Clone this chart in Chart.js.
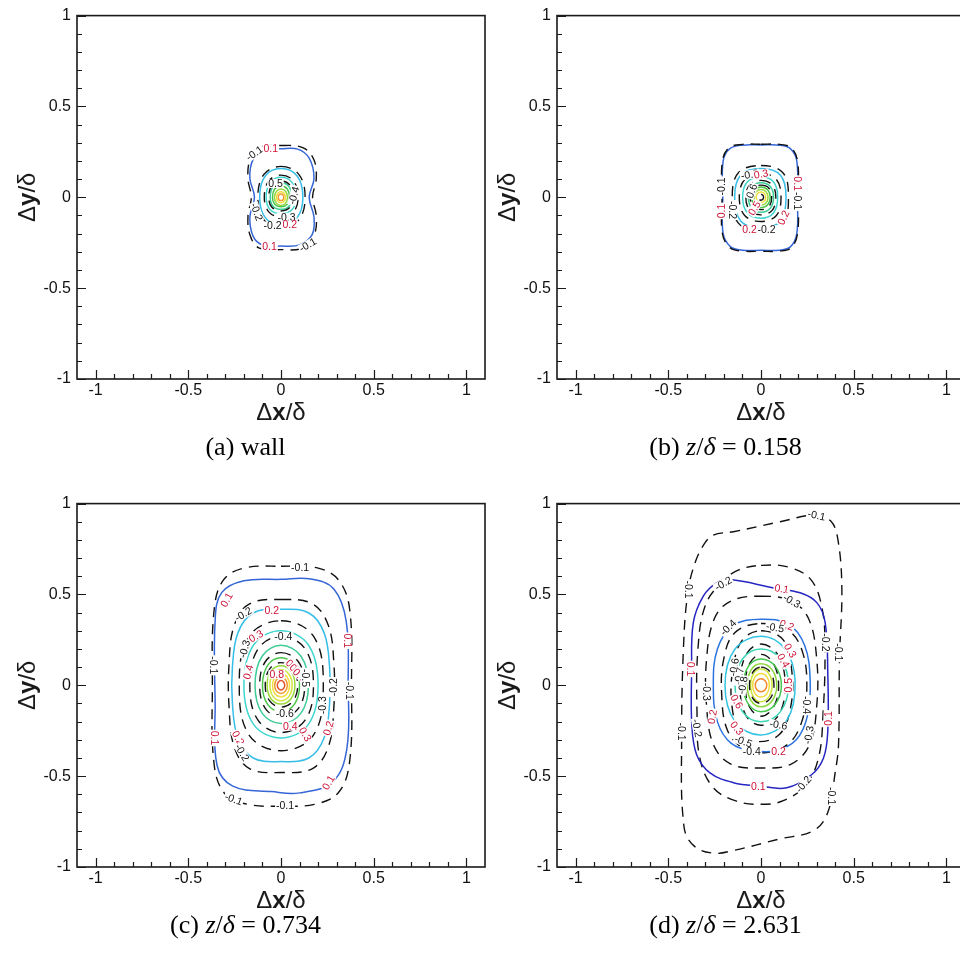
<!DOCTYPE html>
<html>
<head>
<meta charset="utf-8">
<title>Two-point correlation contours</title>
<script src="https://cdn.jsdelivr.net/npm/chart.js@4.4.1/dist/chart.umd.min.js"></script>
<style>
  html, body { margin: 0; padding: 0; background: #fff; overflow: hidden; }
  body { width: 960px; height: 953px; position: relative; }
  canvas { position: absolute; }
</style>
</head>
<body>
<canvas id="pa" width="490" height="470" style="left:0;top:0"></canvas>
<canvas id="pb" width="490" height="470" style="left:480px;top:0"></canvas>
<canvas id="pc" width="490" height="470" style="left:0;top:488px"></canvas>
<canvas id="pd" width="490" height="470" style="left:480px;top:488px"></canvas>
<script>
// ---- axes ----
const xTickValues = [-1, -0.5, 0, 0.5, 1];
const yTickValues = [-1, -0.5, 0, 0.5, 1];
const xMinorValues = [-0.9, -0.8, -0.7, -0.6, -0.4, -0.3, -0.2, -0.1, 0.1, 0.2, 0.3, 0.4, 0.6, 0.7, 0.8, 0.9];
const yMinorValues = [-0.9, -0.8, -0.7, -0.6, -0.4, -0.3, -0.2, -0.1, 0.1, 0.2, 0.3, 0.4, 0.6, 0.7, 0.8, 0.9];

// ---- panel captions ----
const panelTags = ['a', 'b', 'c', 'd'];
const panelStations = ['wall', '0.158', '0.734', '2.631'];

// ---- (a) wall : contour levels and closed contour rings [x0,y0, x1,y1, ...] ----
const levelsA = [-0.1, 0.1, -0.2, 0.2, -0.3, 0.3, -0.4, 0.4, 0.5, 0.6, 0.8, 0.9];
const ringsA = [
  [0,0.285, 0.12,0.272, 0.178,0.205, 0.19,0.1, 0.17,0, 0.19,-0.1, 0.18,-0.205, 0.12,-0.278, 0,-0.288, -0.12,-0.278, -0.168,-0.205, -0.178,-0.1, -0.16,0, -0.178,0.1, -0.168,0.205, -0.12,0.272],
  [0,0.267, 0.09,0.265, 0.152,0.215, 0.178,0.105, 0.152,0, 0.178,-0.11, 0.168,-0.205, 0.1,-0.262, 0,-0.268, -0.1,-0.262, -0.15,-0.215, -0.168,-0.11, -0.143,0, -0.168,0.105, -0.15,0.21, -0.09,0.262],
  [0,0.17, 0.096,0.126, 0.13,0, 0.096,-0.124, 0,-0.168, -0.092,-0.124, -0.125,0, -0.092,0.126],
  [0,0.158, 0.087,0.117, 0.118,0, 0.087,-0.112, 0,-0.152, -0.085,-0.112, -0.115,0, -0.085,0.117],
  [0,0.122, 0.068,0.09, 0.092,0, 0.068,-0.08, 0,-0.108, -0.066,-0.08, -0.09,0, -0.066,0.09],
  [0,0.11, 0.06,0.081, 0.082,0, 0.06,-0.067, 0,-0.09, -0.059,-0.067, -0.08,0, -0.059,0.081],
  [0,0.09, 0.049,0.066, 0.066,0, 0.049,-0.055, 0,-0.075, -0.049,-0.055, -0.066,0, -0.049,0.066],
  [0,0.08, 0.043,0.059, 0.058,0, 0.043,-0.049, 0,-0.066, -0.043,-0.049, -0.058,0, -0.043,0.059],
  [0,0.062, 0.034,0.046, 0.046,0, 0.034,-0.038, 0,-0.052, -0.034,-0.038, -0.046,0, -0.034,0.046],
  [0,0.045, 0.025,0.032, 0.035,0, 0.025,-0.032, 0,-0.045, -0.025,-0.032, -0.035,0, -0.025,0.032],
  [0,0.03, 0.017,0.021, 0.024,0, 0.017,-0.021, 0,-0.03, -0.017,-0.021, -0.024,0, -0.017,0.021],
  [0,0.018, 0.011,0.013, 0.015,0, 0.011,-0.013, 0,-0.018, -0.011,-0.013, -0.015,0, -0.011,0.013]
];
// contour labels: [x, y, text, angle (deg), colour r=red k=black]
const labelsA = [
  [-0.143, 0.242, '-0.1', -35, 'k'], [-0.055, 0.267, '0.1', 0, 'r'],
  [-0.03, 0.076, '0.5', 0, 'k'], [0.07, 0.01, '-0.4', -75, 'k'],
  [0.03, -0.11, '-0.3', 0, 'k'], [0.047, -0.152, '0.2', 0, 'r'],
  [-0.045, -0.158, '-0.2', 0, 'k'], [-0.132, -0.08, '-0.2', 70, 'k'],
  [-0.062, -0.273, '0.1', 0, 'r'], [0.145, -0.262, '-0.1', -30, 'k']
];

// ---- (b) z/delta = 0.158 ----
const levelsB = [-0.1, 0.1, -0.2, 0.2, -0.3, 0.3, -0.4, 0.4, -0.5, 0.5, 0.6, 0.8, -0.9];
const ringsB = [
  [0,0.292, 0.1,0.291, 0.162,0.273, 0.197,0.2, 0.2,0, 0.197,-0.2, 0.162,-0.278, 0.1,-0.296, 0,-0.297, -0.1,-0.296, -0.167,-0.278, -0.208,-0.2, -0.21,0, -0.208,0.2, -0.172,0.273, -0.1,0.291],
  [0,0.288, 0.1,0.287, 0.158,0.268, 0.193,0.2, 0.196,0, 0.193,-0.2, 0.158,-0.273, 0.1,-0.291, 0,-0.292, -0.1,-0.291, -0.163,-0.273, -0.204,-0.2, -0.206,0, -0.204,0.2, -0.168,0.268, -0.1,0.287],
  [0,0.175, 0.118,0.135, 0.148,0, 0.118,-0.142, 0,-0.185, -0.122,-0.142, -0.155,0, -0.122,0.135],
  [0,0.158, 0.105,0.121, 0.135,0, 0.105,-0.13, 0,-0.169, -0.11,-0.13, -0.142,0, -0.11,0.121],
  [0,0.131, 0.083,0.098, 0.108,0, 0.083,-0.1, 0,-0.133, -0.088,-0.1, -0.117,0, -0.088,0.098],
  [0,0.113, 0.068,0.084, 0.09,0, 0.068,-0.085, 0,-0.115, -0.074,-0.085, -0.099,0, -0.074,0.084],
  [0,0.093, 0.06,0.069, 0.08,0, 0.06,-0.072, 0,-0.097, -0.06,-0.072, -0.082,0, -0.06,0.069],
  [0,0.08, 0.05,0.059, 0.068,0, 0.05,-0.06, 0,-0.082, -0.05,-0.06, -0.068,0, -0.05,0.059],
  [0,0.067, 0.043,0.05, 0.058,0, 0.043,-0.05, 0,-0.068, -0.043,-0.05, -0.058,0, -0.043,0.05],
  [0,0.057, 0.036,0.041, 0.05,0, 0.036,-0.041, 0,-0.057, -0.036,-0.041, -0.05,0, -0.036,0.041],
  [0,0.043, 0.027,0.031, 0.038,0, 0.027,-0.031, 0,-0.043, -0.027,-0.031, -0.038,0, -0.027,0.031],
  [0,0.029, 0.018,0.021, 0.026,0, 0.018,-0.021, 0,-0.029, -0.018,-0.021, -0.026,0, -0.018,0.021],
  [0,0.016, 0.01,0.011, 0.014,0, 0.01,-0.011, 0,-0.016, -0.01,-0.011, -0.014,0, -0.01,0.011]
];
const labelsB = [
  [-0.06, 0.125, '-0.3', -10, 'k'], [0.0, 0.128, '0.3', -10, 'r'],
  [-0.212, 0.06, '-0.1', -90, 'k'], [-0.212, -0.075, '0.1', -90, 'r'],
  [-0.152, -0.07, '-0.2', 90, 'k'], [0.197, 0.075, '0.1', 90, 'r'],
  [0.197, -0.02, '-0.1', 90, 'k'], [0.122, -0.112, '0.2', -65, 'r'],
  [-0.062, -0.178, '0.2', 0, 'r'], [0.03, -0.178, '-0.2', 0, 'k'],
  [-0.05, 0.035, '0.6', -70, 'k'], [-0.035, -0.06, '0.5', -60, 'r']
];

// ---- (c) z/delta = 0.734 ----
const levelsC = [-0.1, 0.1, -0.2, 0.2, -0.3, 0.3, -0.4, 0.4, -0.5, 0.5, -0.6, 0.6, 0.7, 0.8, 0.9, 1.0];
const ringsC = [
  [0,0.655, 0.2,0.645, 0.31,0.58, 0.37,0.42, 0.38,0, 0.37,-0.42, 0.31,-0.59, 0.18,-0.655, 0,-0.665, -0.18,-0.655, -0.3,-0.6, -0.36,-0.44, -0.37,0, -0.36,0.42, -0.31,0.58, -0.2,0.645],
  [0,0.583, 0.16,0.585, 0.285,0.53, 0.352,0.35, 0.362,0, 0.355,-0.35, 0.28,-0.53, 0.1,-0.592, -0.05,-0.585, -0.26,-0.555, -0.345,-0.44, -0.355,-0.1, -0.355,0.36, -0.32,0.51, -0.2,0.575],
  [0,0.472, 0.17,0.448, 0.255,0.33, 0.285,0.12, 0.285,-0.12, 0.255,-0.34, 0.17,-0.458, 0,-0.48, -0.17,-0.458, -0.252,-0.34, -0.28,-0.12, -0.28,0.12, -0.252,0.33, -0.17,0.448],
  [0,0.418, 0.15,0.398, 0.232,0.29, 0.262,0.1, 0.262,-0.1, 0.232,-0.29, 0.15,-0.4, 0,-0.42, -0.15,-0.4, -0.232,-0.29, -0.262,-0.1, -0.262,0.1, -0.232,0.29, -0.15,0.398],
  [0,0.355, 0.175,0.27, 0.228,0, 0.175,-0.274, 0,-0.36, -0.172,-0.274, -0.225,0, -0.172,0.27],
  [0,0.3, 0.148,0.222, 0.2,0, 0.148,-0.215, 0,-0.29, -0.148,-0.215, -0.2,0, -0.148,0.222],
  [0,0.27, 0.13,0.2, 0.175,0, 0.13,-0.192, 0,-0.26, -0.124,-0.192, -0.168,0, -0.124,0.2],
  [0,0.22, 0.108,0.16, 0.148,0, 0.108,-0.153, 0,-0.21, -0.102,-0.153, -0.14,0, -0.102,0.16],
  [0,0.18, 0.093,0.131, 0.128,0, 0.093,-0.128, 0,-0.175, -0.084,-0.128, -0.115,0, -0.084,0.131],
  [0,0.152, 0.072,0.11, 0.1,0, 0.072,-0.105, 0,-0.145, -0.072,-0.105, -0.1,0, -0.072,0.11],
  [0,0.125, 0.065,0.09, 0.09,0, 0.065,-0.086, 0,-0.12, -0.061,-0.086, -0.085,0, -0.061,0.09],
  [0,0.108, 0.054,0.078, 0.075,0, 0.054,-0.074, 0,-0.103, -0.054,-0.074, -0.075,0, -0.054,0.078],
  [0,0.085, 0.043,0.061, 0.06,0, 0.043,-0.061, 0,-0.085, -0.043,-0.061, -0.06,0, -0.043,0.061],
  [0,0.064, 0.033,0.046, 0.046,0, 0.033,-0.046, 0,-0.064, -0.033,-0.046, -0.046,0, -0.033,0.046],
  [0,0.045, 0.024,0.032, 0.034,0, 0.024,-0.032, 0,-0.045, -0.024,-0.032, -0.034,0, -0.024,0.032],
  [0,0.026, 0.014,0.018, 0.02,0, 0.014,-0.018, 0,-0.026, -0.014,-0.018, -0.02,0, -0.014,0.018]
];
const labelsC = [
  [0.103, 0.649, '-0.1', 0, 'k'], [-0.293, 0.47, '0.1', -60, 'r'],
  [-0.203, 0.391, '-0.2', -30, 'k'], [-0.05, 0.409, '0.2', 0, 'r'],
  [-0.196, 0.2, '-0.3', -75, 'k'], [-0.135, 0.27, '0.3', -30, 'r'],
  [0.013, 0.269, '-0.4', 0, 'k'], [-0.365, 0.11, '-0.1', 90, 'k'],
  [0.356, 0.245, '0.1', 90, 'r'], [-0.176, 0.073, '0.4', -75, 'r'],
  [0.062, 0.105, '0.5', 45, 'r'], [0.082, 0.08, '0.6', 45, 'r'], [0.1, 0.055, '0.7', 45, 'r'],
  [-0.023, 0.06, '0.8', 0, 'r'], [0.13, 0.04, '-0.5', 90, 'k'],
  [0.283, -0.01, '-0.2', -90, 'k'], [0.368, -0.03, '-0.1', 90, 'k'],
  [0.225, -0.11, '-0.3', -90, 'k'], [0.02, -0.155, '-0.6', 0, 'k'],
  [0.05, -0.225, '0.4', 0, 'r'], [0.13, -0.27, '0.3', 60, 'r'],
  [0.256, -0.236, '0.2', -75, 'r'], [-0.232, -0.29, '0.2', 60, 'r'],
  [-0.21, -0.37, '-0.2', 60, 'k'], [-0.358, -0.29, '0.1', 90, 'r'],
  [0.256, -0.536, '0.1', -60, 'r'], [-0.255, -0.627, '-0.1', 20, 'k'],
  [0.022, -0.664, '-0.1', 0, 'k']
];

// ---- (d) z/delta = 2.631 ----
const levelsD = [-0.1, 0.1, -0.2, -0.3, 0.2, -0.4, 0.3, -0.5, 0.4, -0.6, 0.5, -0.7, 0.6, -0.8, 0.7, 0.8, 0.9];
const ringsD = [
  [-0.257,0.827, -0.149,0.845, 0.103,0.9, 0.283,0.936, 0.375,0.905, 0.415,0.8, 0.436,0.527, 0.423,0.145, 0.418,-0.327, 0.4,-0.48, 0.36,-0.7, 0.283,-0.8, 0.103,-0.845, -0.149,-0.909, -0.257,-0.924, -0.36,-0.885, -0.415,-0.78, -0.428,-0.291, -0.416,0.255, -0.392,0.527, -0.356,0.673, -0.311,0.77],
  [-0.239,0.564, -0.167,0.582, 0.067,0.536, 0.211,0.509, 0.301,0.455, 0.346,0.345, 0.36,0.073, 0.36,-0.255, 0.337,-0.4, 0.274,-0.491, 0.139,-0.564, -0.005,-0.555, -0.149,-0.536, -0.275,-0.482, -0.347,-0.382, -0.373,-0.218, -0.374,0.073, -0.365,0.345, -0.311,0.491],
  [0,0.66, 0.15,0.65, 0.27,0.58, 0.33,0.42, 0.345,0.2, 0.335,-0.15, 0.31,-0.4, 0.24,-0.55, 0.12,-0.635, 0,-0.655, -0.14,-0.635, -0.26,-0.56, -0.33,-0.4, -0.345,-0.15, -0.34,0.2, -0.3,0.44, -0.21,0.57, -0.12,0.635],
  [0,0.49, 0.16,0.465, 0.255,0.37, 0.3,0.15, 0.3,-0.12, 0.26,-0.33, 0.16,-0.435, 0,-0.455, -0.16,-0.435, -0.255,-0.33, -0.293,-0.12, -0.293,0.15, -0.25,0.37, -0.16,0.465],
  [0,0.364, 0.15,0.335, 0.235,0.22, 0.265,0.03, 0.25,-0.17, 0.19,-0.3, 0.08,-0.36, -0.04,-0.36, -0.16,-0.32, -0.235,-0.2, -0.257,0, -0.235,0.2, -0.15,0.33],
  [0,0.34, 0.15,0.3, 0.225,0.18, 0.247,-0.02, 0.22,-0.2, 0.15,-0.32, 0.03,-0.37, -0.09,-0.35, -0.18,-0.25, -0.212,-0.05, -0.2,0.15, -0.14,0.29],
  [0,0.27, 0.13,0.2, 0.184,0.02, 0.14,-0.19, 0,-0.273, -0.14,-0.2, -0.194,0, -0.14,0.2],
  [0,0.3, 0.12,0.25, 0.166,0.08, 0.16,-0.12, 0.1,-0.27, -0.02,-0.31, -0.11,-0.27, -0.158,-0.1, -0.15,0.1, -0.1,0.25],
  [0,0.2, 0.105,0.145, 0.148,0, 0.105,-0.145, 0,-0.2, -0.1,-0.145, -0.14,0, -0.1,0.145],
  [0,0.227, 0.09,0.17, 0.13,0.01, 0.095,-0.165, 0,-0.22, -0.082,-0.165, -0.113,0, -0.08,0.17],
  [0,0.145, 0.077,0.104, 0.11,0, 0.077,-0.104, 0,-0.145, -0.068,-0.104, -0.095,0, -0.068,0.104],
  [0,0.17, 0.066,0.122, 0.095,0, 0.066,-0.122, 0,-0.17, -0.06,-0.122, -0.085,0, -0.06,0.122],
  [0,0.118, 0.06,0.085, 0.085,0, 0.06,-0.085, 0,-0.118, -0.053,-0.085, -0.074,0, -0.053,0.085],
  [0,0.1, 0.05,0.072, 0.07,0, 0.05,-0.072, 0,-0.1, -0.044,-0.072, -0.062,0, -0.044,0.072],
  [0,0.09, 0.042,0.065, 0.06,0, 0.042,-0.065, 0,-0.09, -0.04,-0.065, -0.056,0, -0.04,0.065],
  [0,0.065, 0.032,0.046, 0.045,0, 0.032,-0.046, 0,-0.065, -0.032,-0.046, -0.045,0, -0.032,0.046],
  [0,0.036, 0.022,0.025, 0.031,0, 0.022,-0.025, 0,-0.036, -0.022,-0.025, -0.031,0, -0.022,0.025]
];
const labelsD = [
  [0.3, 0.935, '-0.1', 12, 'k'], [-0.392, 0.527, '-0.1', 90, 'k'],
  [-0.428, -0.255, '-0.1', 90, 'k'], [0.418, 0.182, '-0.1', 90, 'k'],
  [0.382, -0.609, '-0.1', 90, 'k'], [-0.203, 0.56, '-0.2', -30, 'k'],
  [0.112, 0.531, '0.1', 10, 'r'], [0.166, 0.464, '-0.3', 30, 'k'],
  [0.139, 0.33, '0.2', 20, 'r'], [0.076, 0.318, '-0.5', 10, 'k'],
  [-0.176, 0.318, '-0.4', -45, 'k'], [0.346, 0.236, '-0.2', 90, 'k'],
  [0.157, 0.191, '0.3', 60, 'r'], [0.121, 0.136, '0.4', 60, 'r'],
  [0.148, 0.0, '0.5', -90, 'r'], [-0.383, 0.09, '0.1', 90, 'r'],
  [-0.145, 0.1, '-0.6', -80, 'k'], [-0.118, 0.05, '-0.7', -80, 'k'], [-0.098, 0.0, '-0.8', -80, 'k'],
  [-0.131, -0.09, '0.6', 60, 'r'], [-0.293, -0.036, '-0.3', 90, 'k'],
  [0.247, -0.109, '-0.4', 90, 'k'], [0.362, -0.182, '0.1', -90, 'r'],
  [-0.262, -0.173, '0.2', -80, 'r'], [-0.345, -0.236, '-0.2', 80, 'k'],
  [-0.131, -0.236, '0.3', 50, 'r'], [0.094, -0.218, '-0.6', 10, 'k'],
  [0.258, -0.273, '-0.3', -80, 'k'], [-0.095, -0.309, '-0.5', 20, 'k'],
  [-0.05, -0.365, '-0.4', 0, 'k'], [0.094, -0.365, '0.2', 0, 'r'],
  [-0.014, -0.555, '0.1', 0, 'r'], [0.229, -0.545, '-0.2', -50, 'k']
];

// ---- styling ----
const paletteNear = ['#3566d6', '#36bde8', '#3fd6cf', '#3fcc96', '#4bc44a', '#9ad83e', '#d2e640', '#f0dc3c', '#f09a32', '#e2522c'];
const paletteFar  = ['#2626c2', '#2b74e0', '#31c3e2', '#3ad6b6', '#45c64e', '#8ed63c', '#cce43e', '#f0dc3c', '#f08a2e', '#e2522c'];
const SANS = '"Liberation Sans", Arial, Helvetica, sans-serif';
const SERIF = '"Liberation Serif", "Times New Roman", Times, serif';

function ringDataset(level, flat, palette) {
  const pts = [];
  for (let i = 0; i < flat.length; i += 2) pts.push({ x: flat[i], y: flat[i + 1] });
  const n = pts.length;
  // wrap one vertex on each side so the spline closes smoothly; the two outer segments stay hidden
  const data = [pts[n - 1], ...pts, pts[0], pts[1]];
  const dashed = level < 0;
  const color = dashed ? '#111111' : palette[Math.round(Math.abs(level) * 10) - 1];
  return {
    data,
    showLine: true,
    pointRadius: 0,
    borderWidth: dashed ? 1.4 : 1.5,
    borderColor: color,
    borderDash: dashed ? [10, 7] : [],
    tension: 0.38,
    fill: false,
    segment: {
      borderColor: c => (c.p0DataIndex === 0 || c.p0DataIndex === n + 1) ? 'rgba(0,0,0,0)' : undefined
    }
  };
}

function drawParts(ctx, parts, cx, cy) {
  let total = 0;
  for (const [t, f] of parts) { ctx.font = f; total += ctx.measureText(t).width; }
  let x = cx - total / 2;
  ctx.textAlign = 'left';
  ctx.textBaseline = 'middle';
  for (const [t, f] of parts) { ctx.font = f; ctx.fillText(t, x, cy); x += ctx.measureText(t).width; }
}

function overlay(labels, tag, station, captionY) {
  return {
    id: 'overlay',
    afterDatasetsDraw(chart) {
      const { ctx, scales: { x, y } } = chart;
      ctx.save();
      ctx.font = '10.5px ' + SANS;
      ctx.textAlign = 'center';
      ctx.textBaseline = 'middle';
      for (const [lx, ly, txt, ang, col] of labels) {
        const px = x.getPixelForValue(lx), py = y.getPixelForValue(ly);
        ctx.save();
        ctx.translate(px, py);
        ctx.rotate(ang * Math.PI / 180);
        const w = ctx.measureText(txt).width;
        ctx.fillStyle = '#ffffff';
        ctx.fillRect(-w / 2 - 1, -4.5, w + 2, 9);
        ctx.fillStyle = col === 'r' ? '#cc1236' : '#111111';
        ctx.fillText(txt, 0, 0.5);
        ctx.restore();
      }
      ctx.restore();
    },
    afterDraw(chart) {
      const { ctx, chartArea: a, scales: { x, y } } = chart;
      ctx.save();
      // frame
      ctx.strokeStyle = '#1a1a1a';
      ctx.lineWidth = 1.6;
      ctx.strokeRect(a.left, a.top, a.right - a.left, a.bottom - a.top);
      // inward tick marks on bottom and left axes
      ctx.lineWidth = 1.2;
      ctx.beginPath();
      for (const v of xTickValues) { const p = Math.round(x.getPixelForValue(v)) + 0.5; ctx.moveTo(p, a.bottom); ctx.lineTo(p, a.bottom - 9); }
      for (const v of xMinorValues) { const p = Math.round(x.getPixelForValue(v)) + 0.5; ctx.moveTo(p, a.bottom); ctx.lineTo(p, a.bottom - 5); }
      for (const v of yTickValues) { const p = Math.round(y.getPixelForValue(v)) + 0.5; ctx.moveTo(a.left, p); ctx.lineTo(a.left + 9, p); }
      for (const v of yMinorValues) { const p = Math.round(y.getPixelForValue(v)) + 0.5; ctx.moveTo(a.left, p); ctx.lineTo(a.left + 5, p); }
      ctx.stroke();
      // axis titles
      ctx.fillStyle = '#1a1a1a';
      const reg = '24px ' + SANS, bold = 'bold 24px ' + SANS;
      drawParts(ctx, [['\u0394', reg], ['x', bold], ['/\u03b4', reg]], x.getPixelForValue(0), a.bottom + 34);
      ctx.save();
      ctx.translate(28, (a.top + a.bottom) / 2);
      ctx.rotate(-Math.PI / 2);
      drawParts(ctx, [['\u0394', reg], ['y', bold], ['/\u03b4', reg]], 0, 0);
      ctx.restore();
      // caption
      ctx.fillStyle = '#000000';
      const sr = '26px ' + SERIF, si = 'italic 26px ' + SERIF;
      const parts = station === 'wall'
        ? [['(' + tag + ') wall', sr]]
        : [['(' + tag + ') ', sr], ['z', si], ['/', sr], ['\u03b4', si], [' = ' + station, sr]];
      drawParts(ctx, parts, 245.5, captionY);
      ctx.restore();
    }
  };
}

function makePanel(id, levels, rings, labels, palette, tag, station, captionY) {
  const datasets = levels.map((lv, i) => ringDataset(lv, rings[i], palette));
  const tickFont = { family: SANS, size: 16 };
  new Chart(document.getElementById(id), {
    type: 'scatter',
    data: { datasets },
    options: {
      responsive: false,
      animation: false,
      devicePixelRatio: 1,
      events: [],
      layout: { padding: { left: 0, right: 5, top: 12, bottom: 0 } },
      plugins: { legend: { display: false }, tooltip: { enabled: false } },
      scales: {
        x: {
          type: 'linear', min: -1.1, max: 1.1,
          afterBuildTicks: s => { s.ticks = xTickValues.map(v => ({ value: v })); },
          afterFit: s => { s.height = 91; },
          grid: { display: false, drawTicks: false }, border: { display: false },
          ticks: { padding: 2, font: tickFont, color: '#111111', maxRotation: 0, autoSkip: false, callback: v => String(v) }
        },
        y: {
          type: 'linear', min: -1, max: 1,
          afterBuildTicks: s => { s.ticks = yTickValues.map(v => ({ value: v })); },
          afterFit: s => { s.width = 77; },
          grid: { display: false, drawTicks: false }, border: { display: false },
          ticks: { padding: 6, font: tickFont, color: '#111111', autoSkip: false, callback: v => String(v) }
        }
      }
    },
    plugins: [overlay(labels, tag, station, captionY)]
  });
}

makePanel('pa', levelsA, ringsA, labelsA, paletteNear, panelTags[0], panelStations[0], 448);
makePanel('pb', levelsB, ringsB, labelsB, paletteNear, panelTags[1], panelStations[1], 448);
makePanel('pc', levelsC, ringsC, labelsC, paletteNear, panelTags[2], panelStations[2], 438);
makePanel('pd', levelsD, ringsD, labelsD, paletteFar, panelTags[3], panelStations[3], 438);
</script>
</body>
</html>
